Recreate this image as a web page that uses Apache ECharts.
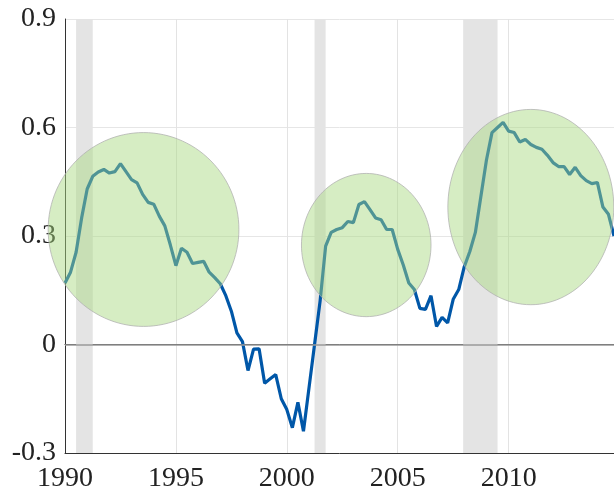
<!DOCTYPE html>
<html>
<head>
<meta charset="utf-8">
<script src="https://cdn.jsdelivr.net/npm/echarts@6/dist/echarts.min.js"></script>
<style>
  html, body { margin:0; padding:0; background:#fff; }
  #chart { width:614px; height:493px; }
</style>
</head>
<body>
<div id="chart"></div>
<script type="text/javascript">
// quarterly values, first quarter = 1990.0
var startYear = 1990;
var values = [
  0.17, 0.20, 0.255, 0.35,
  0.43, 0.465, 0.477, 0.484,
  0.474, 0.478, 0.50, 0.478,
  0.456, 0.447, 0.415, 0.393,
  0.388, 0.355, 0.328, 0.275,
  0.218, 0.266, 0.255, 0.224,
  0.227, 0.23, 0.20, 0.185,
  0.168, 0.135, 0.092, 0.032,
  0.008, -0.072, -0.013, -0.012,
  -0.107, -0.095, -0.083, -0.15,
  -0.18, -0.23, -0.16, -0.24,
  -0.12, 0.0, 0.12, 0.272,
  0.31, 0.318, 0.323, 0.34,
  0.337, 0.387, 0.395, 0.373,
  0.35, 0.345, 0.318, 0.318,
  0.263, 0.22, 0.17, 0.152,
  0.10, 0.097, 0.135, 0.05,
  0.075, 0.06, 0.125, 0.152,
  0.215, 0.257, 0.31, 0.41,
  0.51, 0.586, 0.60, 0.614,
  0.59, 0.586, 0.56, 0.567,
  0.553, 0.545, 0.54, 0.523,
  0.503, 0.492, 0.492, 0.47,
  0.49, 0.467, 0.453, 0.445,
  0.448, 0.38, 0.36, 0.30
];
// shaded recession periods [from, to]
var recessions = [[1990.5, 1991.25], [2001.25, 2001.75], [2007.95, 2009.5]];
// highlight ellipses [centre year, centre value, half width (years), half height]
var bubbles = [
  [1993.54, 0.318, 4.30, 0.268],
  [2003.58, 0.275, 2.92, 0.198],
  [2011.0, 0.38, 3.74, 0.27]
];

var lineData = [];
for (var i = 0; i < values.length; i++) {
  lineData.push([startYear + i * 0.25, values[i]]);
}

var font = "'Liberation Serif', 'DejaVu Serif', serif";
var myChart = echarts.init(document.getElementById('chart'));
myChart.setOption({
  animation: false,
  grid: { left: 65, right: 0, top: 19, bottom: 40 },
  xAxis: [{
    type: 'value',
    min: 1990, max: 2014.75, interval: 5,
    axisLine: { show: true, onZero: false, lineStyle: { color: '#333', width: 1 } },
    axisTick: { show: false },
    splitLine: { show: true, lineStyle: { color: '#e3e3e3', width: 1 } },
    axisLabel: {
      showMaxLabel: false,
      margin: 12,
      color: '#222', fontFamily: font, fontSize: 28,
      formatter: function (v) { return v % 5 === 0 ? String(v) : ''; }
    }
  }, {
    type: 'value', position: 'top',
    min: 1990, max: 2014.75,
    axisLine: { show: true, lineStyle: { color: '#333', width: 1 } },
    axisTick: { show: false }, axisLabel: { show: false }, splitLine: { show: false }
  }],
  yAxis: {
    type: 'value',
    min: -0.3, max: 0.9, interval: 0.3,
    axisLine: { show: true, onZero: false, lineStyle: { color: '#333', width: 1 } },
    axisTick: { show: false },
    splitLine: { show: true, lineStyle: { color: '#e6e6e6', width: 1 } },
    axisLabel: {
      margin: 9,
      color: '#222', fontFamily: font, fontSize: 28,
      formatter: function (v) {
        var r = Math.round(v * 10) / 10;
        return r === 0 ? '0' : r.toFixed(1);
      }
    }
  },
  series: [
    {
      type: 'custom',
      z: 1,
      silent: true,
      data: recessions,
      renderItem: function (params, api) {
        var p0 = api.coord([api.value(0), 0.9]);
        var p1 = api.coord([api.value(1), -0.3]);
        return {
          type: 'rect',
          shape: { x: p0[0], y: p0[1], width: p1[0] - p0[0], height: p1[1] - p0[1] },
          style: { fill: '#e4e4e4' }
        };
      },
      markLine: {
        silent: true, symbol: 'none', label: { show: false },
        lineStyle: { color: '#9a9a9a', width: 1.5, type: 'solid' },
        data: [{ yAxis: 0 }]
      }
    },
    {
      type: 'line',
      z: 3,
      data: lineData,
      showSymbol: false,
      lineStyle: { color: '#0057a8', width: 3.2 },
      itemStyle: { color: '#0057a8' }
    },
    {
      type: 'custom',
      z: 5,
      silent: true,
      clip: false,
      data: bubbles,
      renderItem: function (params, api) {
        var c = api.coord([api.value(0), api.value(1)]);
        var e = api.coord([api.value(0) + api.value(2), api.value(1) + api.value(3)]);
        var rx = e[0] - c[0], ry = c[1] - e[1];
        var pts = [];
        for (var k = 0; k < 120; k++) {
          var a = k / 120 * Math.PI * 2;
          pts.push([c[0] + rx * Math.cos(a), c[1] + ry * Math.sin(a)]);
        }
        return {
          type: 'polygon',
          shape: { points: pts },
          style: { fill: 'rgba(167,216,128,0.47)', stroke: 'rgba(175,175,175,0.75)', lineWidth: 1 }
        };
      }
    }
  ]
});
</script>
</body>
</html>
